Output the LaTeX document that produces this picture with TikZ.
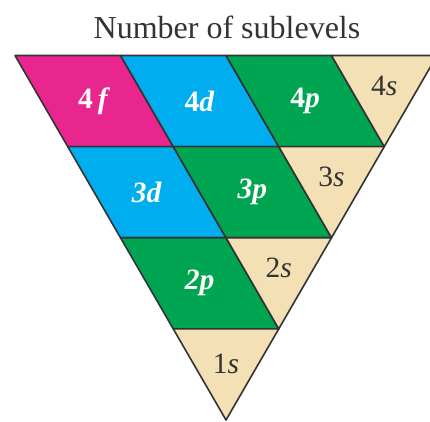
\documentclass[tikz,border=0pt]{standalone}
\usepackage{fontspec}
\setmainfont{Liberation Serif}
\usetikzlibrary{calc}
\definecolor{cmag}{HTML}{E9268E}
\definecolor{ccyan}{HTML}{00ADEF}
\definecolor{cgreen}{HTML}{00A551}
\definecolor{ctan}{HTML}{F3E0B4}
\definecolor{cline}{HTML}{333333}
\tikzset{
  cell/.style={draw=cline,line width=1.6pt,line join=round},
  lblw/.style={text=white,font=\fontsize{29.5}{31}\selectfont\bfseries,inner sep=0pt},
  lbld/.style={text=cline,font=\fontsize{29.5}{31}\selectfont,inner sep=0pt},
}
\begin{document}
\begin{tikzpicture}[x=1pt,y=-1pt]
\useasboundingbox (0,0) rectangle (430,421);
\clip (0,0) rectangle (430,421);
\foreach \k in {0,...,4}{
  \pgfmathtruncatemacro\n{4-\k}
  \foreach \m in {0,...,\n}{
    \coordinate (p\k\m) at ({15+52.75*\k+105.5*\m},{55.5+91.125*\k});
  }
}
\node[text=cline,font=\fontsize{32}{36}\selectfont,inner sep=0pt] (title) at (227,27) {Number of sublevels};
% cells
\draw[cell,fill=cmag]   (p00) -- (p01) -- (p11) -- (p10) -- cycle;
\draw[cell,fill=ccyan]  (p01) -- (p02) -- (p12) -- (p11) -- cycle;
\draw[cell,fill=cgreen] (p02) -- (p03) -- (p13) -- (p12) -- cycle;
\draw[cell,fill=ctan]   (p03) -- (p04) -- (p13) -- cycle;
\draw[cell,fill=ccyan]  (p10) -- (p11) -- (p21) -- (p20) -- cycle;
\draw[cell,fill=cgreen] (p11) -- (p12) -- (p22) -- (p21) -- cycle;
\draw[cell,fill=ctan]   (p12) -- (p13) -- (p22) -- cycle;
\draw[cell,fill=cgreen] (p20) -- (p21) -- (p31) -- (p30) -- cycle;
\draw[cell,fill=ctan]   (p21) -- (p22) -- (p31) -- cycle;
\draw[cell,fill=ctan]   (p30) -- (p31) -- (p40) -- cycle;
% labels
\node[lblw] (l4f) at ($(p00)!0.5!(p11)$) {4\,\textit{f}};
\node[lblw] (l4d) at ($(p01)!0.5!(p12)$) {4\textit{d}};
\node[lblw] (l4p) at ($(p02)!0.5!(p13)$) {4\textit{p}};
\node[lbld] (l4s) at ($1/3*(p03)+1/3*(p04)+1/3*(p13)$) {4\textit{s}};
\node[lblw] (l3d) at ($(p10)!0.5!(p21)$) {\textit{3d}};
\node[lblw] (l3p) at ($(p11)!0.5!(p22)$) {\textit{3p}};
\node[lbld] (l3s) at ($1/3*(p12)+1/3*(p13)+1/3*(p22)$) {3\textit{s}};
\node[lblw] (l2p) at ($(p20)!0.5!(p31)$) {\textit{2p}};
\node[lbld] (l2s) at ($1/3*(p21)+1/3*(p22)+1/3*(p31)$) {2\textit{s}};
\node[lbld] (l1s) at ($1/3*(p30)+1/3*(p31)+1/3*(p40)+(0,5)$) {1\textit{s}};
\end{tikzpicture}
\end{document}
